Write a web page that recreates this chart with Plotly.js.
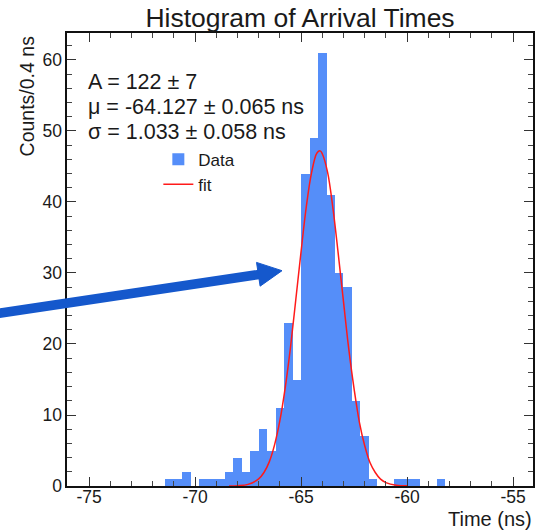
<!DOCTYPE html>
<html>
<head>
<meta charset="utf-8">
<script src="https://cdn.plot.ly/plotly-3.0.1.min.js"></script>
<style>
  html, body { margin: 0; padding: 0; background: #fff; }
  #chart { width: 535px; height: 531px; }
</style>
</head>
<body>
<div id="chart"></div>
<script>
// Histogram bins (centres, ns) and counts per 0.4 ns bin
const binCenters = [-71.2, -70.8, -70.4, -70.0, -69.6, -69.2, -68.8, -68.4, -68.0, -67.6,
                    -67.2, -66.8, -66.4, -66.0, -65.6, -65.2, -64.8, -64.4, -64.0, -63.6,
                    -63.2, -62.8, -62.4, -62.0, -61.6, -61.2, -60.8, -60.4, -60.0, -59.6,
                    -59.2, -58.8, -58.4];
const counts = [1, 1, 2, 0, 1, 1, 1, 2, 4, 2,
                5, 8, 5, 11, 23, 15, 44, 49, 61, 41,
                30, 28, 12, 7, 1, 0, 0, 1, 1, 1,
                0, 0, 1];
const binWidth = 0.4;

// Fit curve
const fitX = [-68.4, -68.0, -67.5, -67.0, -66.75, -66.5, -66.25, -66.0, -65.75, -65.5,
              -65.25, -65.0, -64.75, -64.5, -64.25, -64.1, -64.0, -63.75, -63.5, -63.25,
              -63.0, -62.75, -62.5, -62.25, -62.0, -61.75, -61.5, -61.25, -61.0, -60.5, -60.0];
const fitY = [0.01, 0.04, 0.23, 1.0, 1.9, 3.4, 5.8, 9.2, 13.8, 19.5,
              26.2, 33.0, 39.4, 44.2, 46.9, 47.2, 46.8, 44.2, 39.2, 32.8,
              26.0, 19.3, 13.7, 9.0, 5.7, 3.3, 1.9, 0.96, 0.48, 0.1, 0.02];

// Axis ticks
const xTickVals = [-75, -70, -65, -60, -55];
const xTickText = ["-75", "-70", "-65", "-60", "-55"];
const yTickVals = [0, 10, 20, 30, 40, 50, 60];
const yTickText = ["0", "10", "20", "30", "40", "50", "60"];

// Texts
const titleText = "Histogram of Arrival Times";
const xTitle = "Time (ns)";
const yTitle = "Counts/0.4 ns";
const statsLines = ["A = 122 ± 7", "μ = -64.127 ± 0.065 ns", "σ = 1.033 ± 0.058 ns"];
const seriesNames = ["Data", "fit"];

const FONT = "Liberation Sans, Arial, Helvetica, sans-serif";
const TXT = "#1a1a1a";

const traces = [
  {
    type: "bar",
    name: seriesNames[0],
    x: binCenters,
    y: counts,
    width: binWidth,
    marker: { color: "rgb(85,142,249)", line: { width: 0 } },
    hoverinfo: "x+y"
  },
  {
    type: "scatter",
    mode: "lines",
    name: seriesNames[1],
    x: fitX,
    y: fitY,
    line: { color: "#ff1a1a", width: 1.5, shape: "spline", smoothing: 1 }
  }
];

const axisCommon = {
  showgrid: false,
  zeroline: false,
  showline: true,
  linecolor: "#111",
  linewidth: 1.6,
  mirror: "allticks",
  ticks: "inside",
  ticklen: 9,
  tickwidth: 1,
  tickcolor: "#333",
  tickfont: { family: FONT, size: 17.5, color: TXT },
  tickmode: "array"
};

const statsY = [0.8918, 0.8366, 0.7815];
const statsAnnotations = statsLines.map((t, i) => ({
  text: t,
  xref: "paper", yref: "paper",
  x: 0.040, y: statsY[i], xanchor: "left", yanchor: "middle",
  align: "left", showarrow: false,
  font: { family: FONT, size: 21.5, color: TXT }
}));

const layout = {
  width: 535,
  height: 531,
  margin: { l: 67, r: 2, t: 33, b: 45 },
  paper_bgcolor: "#fff",
  plot_bgcolor: "#fff",
  font: { family: FONT, color: TXT },
  bargap: 0,
  title: {
    text: titleText,
    font: { family: FONT, size: 26.5, color: TXT },
    x: 0.5, xref: "paper", xanchor: "center",
    y: 0.966, yref: "container", yanchor: "middle"
  },
  xaxis: Object.assign({}, axisCommon, {
    range: [-76.04, -54.06],
    tickvals: xTickVals,
    ticktext: xTickText,
    ticklabelstandoff: -6,
    minor: { dtick: 1, tick0: -75, ticks: "inside", ticklen: 5, tickcolor: "#444", tickwidth: 1 }
  }),
  yaxis: Object.assign({}, axisCommon, {
    range: [0, 63.8],
    tickvals: yTickVals,
    ticktext: yTickText,
    minor: { dtick: 2, tick0: 0, ticks: "inside", ticklen: 5, tickcolor: "#444", tickwidth: 1 }
  }),
  showlegend: true,
  legend: {
    x: 0.196, y: 0.76, xanchor: "left", yanchor: "top",
    bgcolor: "rgba(0,0,0,0)",
    font: { family: FONT, size: 17, color: TXT },
    itemwidth: 30,
    traceorder: "normal"
  },
  annotations: statsAnnotations.concat([
    {
      text: xTitle,
      xref: "paper", yref: "paper",
      x: 1.0, y: -0.0985, xanchor: "right", yanchor: "bottom",
      showarrow: false, borderpad: 0,
      font: { family: FONT, size: 20, color: TXT }
    },
    {
      text: yTitle,
      xref: "paper", yref: "paper",
      x: -0.086, y: 1.0, xanchor: "center", yanchor: "top",
      textangle: -90, showarrow: false,
      font: { family: FONT, size: 19.5, color: TXT }
    }
  ]),
  shapes: [
    {
      type: "line", xref: "paper", yref: "paper", layer: "above",
      x0: -0.1545, y0: 0.3800, x1: 0.4185, y1: 0.4680,
      line: { color: "#1558cc", width: 9.5 }
    },
    {
      type: "path", xref: "paper", yref: "paper", layer: "above",
      path: "M 0.4614 0.4753 L 0.4144 0.4411 L 0.4067 0.4936 Z",
      fillcolor: "#1558cc", line: { color: "#1558cc", width: 1 }
    }
  ]
};

Plotly.newPlot("chart", traces, layout, { displayModeBar: false, staticPlot: true });
</script>
</body>
</html>
